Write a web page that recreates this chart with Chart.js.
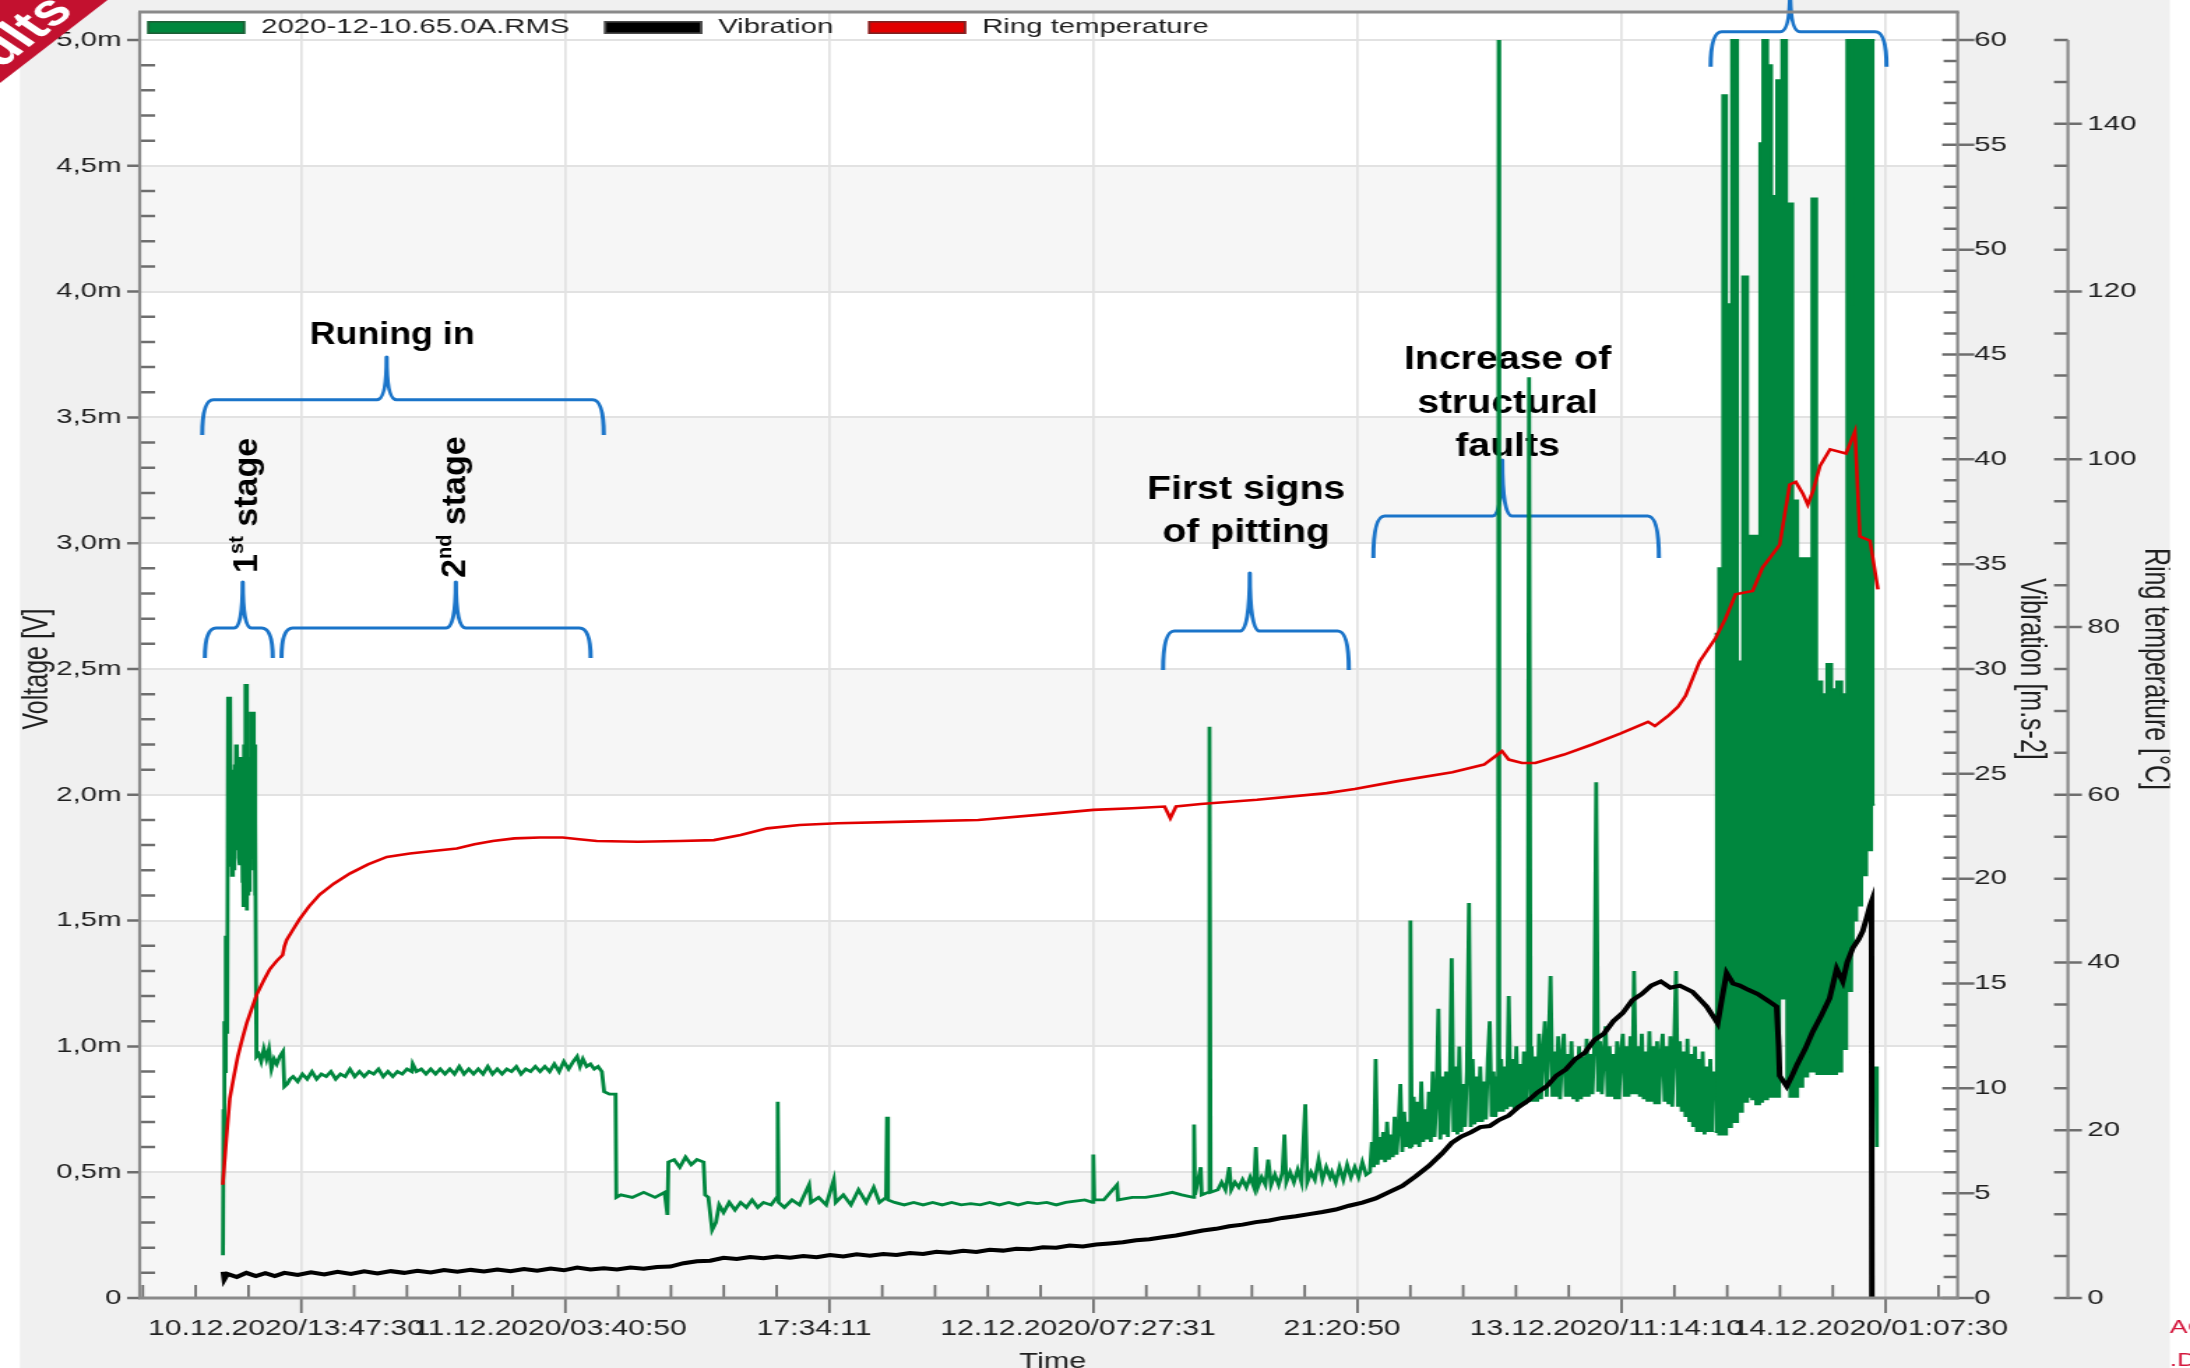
<!DOCTYPE html>
<html>
<head>
<meta charset="utf-8">
<title>Voltage, vibration and ring temperature</title>
<script src="https://cdn.jsdelivr.net/npm/chart.js@4.4.1/dist/chart.umd.min.js"></script>
<style>
  html, body { margin: 0; padding: 0; background: #ffffff; overflow: hidden; }
  /* the whole panel is drawn at 1568 px and widened to the 2190 px window */
  #stage { width: 1568px; height: 1368px; transform: scaleX(1.396684); transform-origin: 0 0; }
  canvas { display: block; }
</style>
</head>
<body>
<div id="stage"><canvas id="chart" width="1568" height="1368"></canvas></div>
<script>
// ---------------------------------------------------------------------------
// Data: time is in hours after 10.12.2020 00:00:00
// ---------------------------------------------------------------------------

// RMS voltage [mV] - running-in, first stage
const voltFirstStage = [
  [9.67,0.17],[9.70,0.75],[9.73,0.55],[9.76,1.10],[9.79,0.90],[9.82,1.44],[9.85,1.20],[9.88,1.44],
  [9.91,1.05],[9.94,2.39],[9.97,2.10],[10.00,2.39],[10.03,2.20],[10.06,2.39],[10.09,1.72],[10.12,2.06],
  [10.15,1.68],[10.18,2.10],[10.21,1.74],[10.24,2.02],[10.27,1.70],[10.30,2.12],[10.33,1.78],[10.36,2.20],
  [10.39,1.80],[10.42,2.18],[10.45,1.82],[10.48,2.10],[10.51,1.75],[10.54,2.05],[10.57,1.72],[10.60,2.15],
  [10.63,1.80],[10.66,2.00],[10.69,1.65],[10.72,1.95],[10.75,1.56],[10.78,2.20],[10.81,1.75],[10.84,2.44],
  [10.87,2.00],[10.90,2.44],[10.93,1.54],[10.96,2.10],[10.99,1.60],[11.02,2.00],[11.05,1.62],[11.08,2.15],
  [11.11,1.75],[11.14,2.33],[11.17,1.95],[11.20,2.33],[11.23,1.80],[11.26,2.33],[11.29,1.70],[11.32,2.20],
  [11.35,1.60],[11.38,1.90],[11.41,1.20],[11.43,0.96]
];
// RMS voltage [mV] - running-in, second stage
const voltSecondStage = [
  [11.55,0.97],[11.68,0.94],[11.82,0.99],[11.96,0.95],[12.09,0.99],[12.22,0.91],[12.36,0.95],[12.50,0.93],
  [12.66,0.96],[12.83,0.98],[12.90,0.84],[13.05,0.85],[13.20,0.87],[13.36,0.88],[13.6,0.86],[13.85,0.89],
  [14.1,0.87],[14.35,0.90],[14.6,0.87],[14.85,0.89],[15.1,0.88],[15.35,0.90],[15.6,0.87],[15.85,0.89],
  [16.1,0.88],[16.35,0.91],[16.6,0.88],[16.85,0.90],[17.1,0.88],[17.35,0.90],[17.6,0.89],[17.85,0.91],
  [18.1,0.88],[18.35,0.90],[18.6,0.88],[18.85,0.90],[19.1,0.89],[19.35,0.91],[19.6,0.90],[19.65,0.93],
  [19.85,0.90],[20.1,0.91],[20.35,0.89],[20.6,0.91],[20.85,0.89],[21.1,0.91],[21.35,0.89],[21.6,0.91],
  [21.85,0.89],[22.1,0.92],[22.35,0.89],[22.6,0.91],[22.85,0.89],[23.1,0.91],[23.35,0.89],[23.6,0.92],
  [23.85,0.89],[24.1,0.91],[24.35,0.89],[24.6,0.91],[24.85,0.90],[25.1,0.92],[25.35,0.89],[25.6,0.91],
  [25.85,0.90],[26.1,0.92],[26.35,0.90],[26.6,0.92],[26.85,0.90],[27.1,0.93],[27.35,0.90],[27.6,0.94],
  [27.85,0.91],[28.1,0.94],[28.3,0.96],[28.45,0.92],[28.6,0.95],[28.8,0.92],[29.0,0.93],[29.2,0.91],
  [29.4,0.92],[29.6,0.90],[29.72,0.82],[30.0,0.81],[30.32,0.81],[30.36,0.40]
];
// RMS voltage [mV] - settled operation
const voltSettled = [
  [30.6,0.41],[31.2,0.40],[31.8,0.42],[32.4,0.40],[32.9,0.42],[33.05,0.33],[33.10,0.54],[33.4,0.55],
  [33.7,0.52],[34.0,0.56],[34.3,0.53],[34.6,0.55],[34.95,0.54],[35.03,0.41],[35.2,0.40],[35.4,0.27],
  [35.6,0.30],[35.77,0.37],[36.0,0.34],[36.3,0.38],[36.6,0.35],[36.9,0.38],[37.2,0.36],[37.5,0.39],
  [37.8,0.36],[38.1,0.38],[38.5,0.37],[38.8,0.40],[38.85,0.78],[38.9,0.38],[39.2,0.36],[39.6,0.39],
  [40.0,0.37],[40.5,0.45],[40.6,0.38],[41.0,0.40],[41.4,0.37],[41.8,0.47],[41.9,0.38],[42.3,0.41],
  [42.7,0.37],[43.1,0.43],[43.5,0.38],[43.9,0.44],[44.2,0.38],[44.55,0.40],[44.6,0.72],[44.65,0.39],
  [45.0,0.38],[45.5,0.37],[46.0,0.38],[46.5,0.37],[47.0,0.38],[47.5,0.37],[48.0,0.38],[48.5,0.37],
  [49.0,0.375],[49.5,0.37],[50.0,0.38],[50.5,0.37],[51.0,0.38],[51.5,0.37],[52.0,0.38],[52.5,0.375],
  [53.0,0.38],[53.5,0.37],[54.0,0.38],[54.5,0.385],[55.0,0.39],[55.4,0.38],[55.45,0.57],[55.5,0.39],
  [56.0,0.39],[56.7,0.45],[56.75,0.39],[57.5,0.40],[58.2,0.40],[59.0,0.41],[59.6,0.42],[60.1,0.41],
  [60.7,0.40],[60.75,0.69],[60.8,0.41],[61.1,0.52],[61.15,0.41],[61.5,0.42],[61.56,2.27],[61.62,0.42]
];
// RMS voltage [mV] - first signs of pitting
const voltPitting = [
  [62.0,0.43],[62.2,0.46],[62.4,0.43],[62.6,0.52],[62.7,0.43],[62.9,0.46],[63.1,0.44],[63.3,0.47],
  [63.5,0.44],[63.7,0.48],[63.9,0.44],[64.0,0.60],[64.1,0.44],[64.3,0.48],[64.5,0.45],[64.65,0.55],
  [64.8,0.45],[65.0,0.49],[65.2,0.45],[65.4,0.50],[65.5,0.65],[65.6,0.46],[65.8,0.50],[66.0,0.46],
  [66.2,0.51],[66.4,0.46],[66.6,0.77],[66.7,0.46],[66.9,0.50],[67.1,0.47],[67.3,0.55],[67.5,0.47],
  [67.7,0.52],[67.9,0.48],[68.0,0.50],[68.2,0.46],[68.4,0.52],[68.6,0.47],[68.8,0.53],[69.0,0.48],
  [69.2,0.52],[69.4,0.48],[69.6,0.54],[69.8,0.49]
];
// RMS voltage [mV] - growing structural faults
const voltFaults = [
  [70.0,0.50],[70.1,0.62],[70.2,0.52],[70.3,0.95],[70.4,0.53],[70.5,0.64],[70.6,0.55],[70.7,0.66],
  [70.8,0.54],[70.9,0.70],[71.0,0.55],[71.1,0.65],[71.2,0.56],[71.3,0.72],[71.4,0.57],[71.5,0.68],
  [71.6,0.85],[71.7,0.58],[71.8,0.74],[71.9,0.60],[72.0,0.70],[72.1,0.60],[72.13,1.50],[72.2,0.60],
  [72.3,0.80],[72.4,0.61],[72.5,0.78],[72.6,0.60],[72.7,0.86],[72.8,0.62],[72.9,0.75],[73.0,0.63],
  [73.1,0.82],[73.2,0.62],[73.3,0.90],[73.4,0.64],[73.5,0.80],[73.6,1.15],[73.7,0.63],[73.8,0.88],
  [73.9,0.65],[74.0,0.90],[74.1,0.64],[74.2,0.85],[74.3,1.35],[74.4,0.66],[74.5,0.92],[74.6,0.65],
  [74.7,1.00],[74.8,0.66],[74.9,0.85],[75.0,0.68],[75.1,0.90],[75.21,1.57],[75.3,0.68],[75.4,0.95],
  [75.5,0.69],[75.6,0.88],[75.7,0.70],[75.8,0.92],[75.9,0.70],[76.0,0.86],[76.1,0.71],[76.2,0.95],
  [76.3,1.10],[76.4,0.72],[76.5,0.90],[76.6,0.72],[76.7,0.88],[76.74,0.74],[76.77,5.00],[76.80,0.74],
  [76.9,0.95],[77.0,0.74],[77.1,0.92],[77.2,0.75],[77.3,1.20],[77.4,0.76],[77.5,0.95],[77.6,0.75],
  [77.7,1.00],[77.8,0.76],[77.9,0.93],[78.0,0.77],[78.1,0.98],[78.2,0.77],[78.3,0.92],[78.37,3.66],
  [78.45,0.78],[78.5,1.00],[78.6,0.78],[78.7,0.96],[78.8,0.78],[78.9,1.05],[79.0,0.79],[79.1,0.98],
  [79.2,1.10],[79.3,0.80],[79.4,1.02],[79.5,1.28],[79.6,0.80],[79.7,0.98],[79.8,0.80],[79.9,1.04],
  [80.0,0.79],[80.1,0.96],[80.2,1.05],[80.3,0.80],[80.4,0.97],[80.5,0.80],[80.6,1.02],[80.7,0.79],
  [80.8,0.95],[80.9,0.78],[81.0,1.00],[81.1,0.79],[81.2,0.96],[81.3,0.80],[81.4,1.03],[81.5,0.80],
  [81.6,0.97],[81.7,0.81],[81.8,1.00],[81.9,2.05],[82.0,0.82],[82.1,1.02],[82.2,0.81],[82.3,0.98],
  [82.4,1.08],[82.5,0.80],[82.6,1.00],[82.7,0.80],[82.8,0.97],[82.9,0.79],[83.0,1.02],[83.1,0.79],
  [83.2,0.98],[83.3,1.05],[83.4,0.80],[83.5,1.00],[83.6,0.80],[83.7,1.04],[83.8,0.81],[83.89,1.30],
  [84.0,0.81],[84.1,1.00],[84.2,0.80],[84.3,1.05],[84.4,0.79],[84.5,0.98],[84.6,0.78],[84.7,1.06],
  [84.8,0.78],[84.9,1.00],[85.0,0.77],[85.1,1.02],[85.2,0.77],[85.3,0.97],[85.4,1.05],[85.5,0.78],
  [85.6,1.00],[85.7,0.77],[85.8,1.04],[85.9,0.76],[86.0,1.00],[86.1,1.30],[86.2,0.76],[86.3,1.02],
  [86.4,0.74],[86.5,0.98],[86.6,0.72],[86.7,1.03],[86.8,0.70],[86.9,0.97],[87.0,0.68],[87.1,1.00],
  [87.2,0.66],[87.3,0.95],[87.4,0.66],[87.5,0.98],[87.6,0.65],[87.7,0.92],[87.8,0.66],[87.9,0.95],
  [88.0,0.66],[88.1,0.90]
];
// RMS voltage [mV] - final burst, lower and upper envelope per time slot
const burstHours = [88.13,88.34,88.55,88.76,89.02,89.34,89.60,89.87,90.08,90.29,90.50,90.66,90.92,91.13,
  91.39,91.55,91.66,91.92,92.08,92.24,92.50,92.77,93.03,93.24,93.50,93.77,94.03,94.29,94.55,94.82,
  95.08,95.34,95.42,95.61,95.87,96.13,96.39,96.55];
const burstLow = [0.66,0.65,0.65,0.68,0.70,0.74,0.78,0.80,0.79,0.77,0.78,0.79,0.80,0.80,
  0.80,1.19,1.19,0.84,0.80,0.80,0.84,0.88,0.90,0.90,0.89,0.89,0.89,0.89,0.90,0.99,
  1.22,1.40,1.50,1.56,1.68,1.78,1.96,1.96];
const burstHigh = [2.64,2.90,4.78,3.95,5.00,2.53,4.06,3.03,3.03,3.03,4.59,5.00,4.90,4.38,
  4.84,4.84,5.00,4.35,4.35,3.17,2.94,2.94,2.94,4.37,2.45,2.40,2.52,2.42,2.45,2.40,
  5.00,3.95,5.00,5.00,5.00,5.00,5.00,5.00];
// RMS voltage [mV] - last reading after the stop
const voltTail = [[96.62,0.92],[96.66,0.60]];

// Vibration [m.s-2]
const vibration = [
  [9.69,1.25],[9.74,0.90],[9.9,1.15],[10.4,1.00],[10.9,1.20],[11.4,1.05],[11.9,1.18],[12.4,1.05],
  [12.9,1.20],[13.6,1.10],[14.3,1.22],[15.0,1.12],[15.7,1.25],[16.4,1.15],[17.1,1.27],[17.8,1.17],
  [18.5,1.28],[19.2,1.20],[19.9,1.30],[20.6,1.22],[21.3,1.33],[22.0,1.25],[22.7,1.34],[23.4,1.27],
  [24.1,1.36],[24.8,1.28],[25.5,1.38],[26.2,1.30],[26.9,1.40],[27.6,1.32],[28.3,1.45],[29.0,1.36],
  [29.7,1.42],[30.4,1.36],[31.1,1.45],[31.8,1.40],[32.5,1.48],[33.2,1.50],[33.9,1.66],[34.6,1.75],
  [35.3,1.78],[36.0,1.92],[36.7,1.86],[37.4,1.95],[38.1,1.90],[38.8,1.98],[39.5,1.92],[40.2,2.00],
  [40.9,1.95],[41.6,2.05],[42.3,1.98],[43.0,2.08],[43.7,2.02],[44.4,2.10],[45.1,2.05],[45.8,2.14],
  [46.5,2.10],[47.2,2.20],[47.9,2.16],[48.6,2.25],[49.3,2.20],[50.0,2.30],[50.7,2.26],[51.4,2.35],
  [52.1,2.32],[52.8,2.42],[53.5,2.40],[54.2,2.50],[54.9,2.46],[55.6,2.55],[56.3,2.60],[57.0,2.66],
  [57.7,2.75],[58.4,2.80],[59.1,2.90],[59.8,2.98],[60.5,3.10],[61.2,3.22],[61.9,3.30],[62.6,3.42],
  [63.3,3.50],[64.0,3.62],[64.7,3.70],[65.4,3.82],[66.1,3.90],[66.8,4.00],[67.5,4.10],[68.2,4.22],
  [68.9,4.40],[69.6,4.55],[70.3,4.75],[71.0,5.05],[71.7,5.35],[72.4,5.80],[73.1,6.30],[73.8,6.90],
  [74.3,7.40],[74.8,7.70],[75.3,7.90],[75.8,8.15],[76.3,8.20],[76.8,8.50],[77.3,8.70],[77.8,9.10],
  [78.3,9.40],[78.8,9.80],[79.3,10.10],[79.8,10.60],[80.3,10.90],[80.8,11.40],[81.3,11.70],[81.8,12.30],
  [82.3,12.60],[82.8,13.20],[83.3,13.60],[83.8,14.20],[84.3,14.50],[84.8,14.90],[85.3,15.10],[85.8,14.80],
  [86.3,14.90],[86.97,14.60],[87.4,14.20],[87.71,13.90],[88.0,13.50],[88.29,13.10],[88.5,14.20],[88.76,15.50],
  [89.1,15.00],[89.45,14.90],[89.9,14.70],[90.4,14.50],[90.9,14.20],[91.39,13.90],[91.5,12.00],[91.55,10.60],
  [91.92,10.10],[92.2,10.60],[92.45,11.10],[92.9,11.90],[93.29,12.70],[93.7,13.40],[94.18,14.30],[94.55,15.70],
  [94.87,15.10],[95.1,16.00],[95.4,16.70],[95.7,17.10],[95.92,17.50],[96.15,18.20],[96.3,18.70],[96.38,18.90],
  [96.40,0.00]
];

// Ring temperature [°C]
const ringTemperature = [
  [9.66,13.5],[9.85,19.0],[10.03,23.8],[10.25,26.5],[10.45,28.8],[10.7,31.0],[10.92,32.8],[11.2,34.6],
  [11.45,36.2],[11.8,37.8],[12.13,39.2],[12.5,40.2],[12.81,40.9],[12.9,41.9],[13.02,42.7],[13.35,43.9],
  [13.71,45.2],[14.2,46.7],[14.76,48.1],[15.5,49.4],[16.34,50.6],[17.3,51.7],[18.29,52.6],[19.5,53.0],
  [20.71,53.3],[21.97,53.6],[22.9,54.1],[23.86,54.5],[25.0,54.8],[26.33,54.9],[27.54,54.9],[28.4,54.7],
  [29.33,54.5],[31.5,54.4],[33.69,54.5],[35.5,54.6],[36.9,55.2],[38.3,56.0],[40.0,56.4],[42.0,56.6],
  [45.7,56.8],[49.4,57.0],[53.0,57.7],[55.45,58.2],[57.5,58.4],[59.2,58.6],[59.5,57.2],[59.8,58.6],
  [61.1,58.9],[64.06,59.4],[67.73,60.2],[69.2,60.7],[71.39,61.6],[74.33,62.7],[76.0,63.6],[76.6,64.6],
  [76.95,65.2],[77.3,64.2],[78.0,63.8],[78.7,63.8],[80.21,64.8],[81.69,66.0],[83.16,67.3],[84.63,68.7],
  [84.99,68.2],[85.73,69.5],[86.2,70.5],[86.6,71.8],[87.34,75.9],[88.18,78.7],[88.7,81.0],[89.23,83.9],
  [90.13,84.3],[90.65,87.1],[91.55,89.8],[91.82,93.5],[92.08,97.0],[92.4,97.3],[92.77,95.9],[93.03,94.6],
  [93.3,96.2],[93.67,99.2],[94.2,101.2],[95.04,100.7],[95.51,103.3],[95.77,90.8],[96.3,90.3],[96.72,84.5]
];

// Axis ticks
const timeTickLabels = ['10.12.2020/13:47:30', '11.12.2020/03:40:50', '17:34:11', '12.12.2020/07:27:31',
  '21:20:50', '13.12.2020/11:14:10', '14.12.2020/01:07:30'];
const firstTimeTick = 13 + 47 / 60 + 30 / 3600;   // 10.12.2020 13:47:30
const timeTickStep = 50000 / 3600;                // 13:53:20 between labels
const voltTickValues = [0, 0.5, 1, 1.5, 2, 2.5, 3, 3.5, 4, 4.5, 5];
const vibTickValues = [0, 5, 10, 15, 20, 25, 30, 35, 40, 45, 50, 55, 60];
const tempTickValues = [0, 20, 40, 60, 80, 100, 120, 140];

// ---------------------------------------------------------------------------
// Styling
// ---------------------------------------------------------------------------
const FONT = '"Liberation Sans", Arial, sans-serif';
const GREEN = '#00873e';
const RED = '#e10000';
const TEXT = '#1e1e1e';
const GRID = '#e2e2e2';
const AXIS = '#8a8a8a';
const TICK = '#6e6e6e';
const BRACE = '#1a74c9';
const topRoom = 1286 / 1258;   // space above the top tick for the legend strip

Chart.defaults.font.family = FONT;
Chart.defaults.color = TEXT;

const toXY = pts => pts.map(([x, y]) => ({ x, y }));
const voltageLine = toXY([...voltFirstStage, ...voltSecondStage, ...voltSettled, ...voltPitting, ...voltFaults])
  .concat([{ x: 88.12, y: null }], toXY(voltTail));
const burstLowLine = burstHours.map((h, i) => ({ x: h, y: burstLow[i] }));
const burstHighLine = burstHours.map((h, i) => ({ x: h, y: burstHigh[i] }));

// Annotations, placed in data units (hours, mV)
const braces = [
  { from: 8.58, to: 29.70, mid: 18.28, end: 3.43, bar: 3.57, tip: 3.74 },
  { from: 8.72, to: 12.29, mid: 10.71, end: 2.544, bar: 2.663, tip: 2.846 },
  { from: 12.75, to: 29.01, mid: 21.92, end: 2.544, bar: 2.663, tip: 2.846 },
  { from: 59.12, to: 68.89, mid: 63.68, end: 2.496, bar: 2.651, tip: 2.882 },
  { from: 70.18, to: 85.20, mid: 76.96, end: 2.941, bar: 3.108, tip: 3.331 },
  { from: 87.92, to: 97.17, mid: 92.10, end: 4.894, bar: 5.033, tip: 5.20 }
];
const noteLines = [
  { text: 'Runing in', x: 18.57, y: 3.79, size: 31 },
  { text: 'First signs', x: 63.49, y: 3.176, size: 34 },
  { text: 'of pitting', x: 63.49, y: 3.005, size: 34 },
  { text: 'Increase of', x: 77.24, y: 3.692, size: 34 },
  { text: 'structural', x: 77.24, y: 3.517, size: 34 },
  { text: 'faults', x: 77.24, y: 3.347, size: 34 }
];
const stageNotes = [
  { lead: '1', sup: 'st', rest: ' stage', x: 11.0, y: 2.882 },
  { lead: '2', sup: 'nd', rest: ' stage', x: 21.95, y: 2.862 }
];
const legendEntries = [0, 3, 4];
const legendEdges = ['#1d5f37', '#4a4a4a', '#7e2222'];

// ---------------------------------------------------------------------------
// Drawing helpers
// ---------------------------------------------------------------------------
function drawBrace(ctx, xs, ys, b) {
  const xL = xs.getPixelForValue(b.from), xR = xs.getPixelForValue(b.to), xC = xs.getPixelForValue(b.mid);
  const yE = ys.getPixelForValue(b.end), yB = ys.getPixelForValue(b.bar), yT = ys.getPixelForValue(b.tip);
  const r = Math.min(8, (xR - xL) / 6);
  const c = Math.min(7, (xR - xL) / 8);
  ctx.beginPath();
  ctx.moveTo(xL, yE);
  ctx.quadraticCurveTo(xL, yB, xL + r, yB);
  ctx.lineTo(xC - c, yB);
  ctx.quadraticCurveTo(xC, yB, xC, yT);
  ctx.quadraticCurveTo(xC, yB, xC + c, yB);
  ctx.lineTo(xR - r, yB);
  ctx.quadraticCurveTo(xR, yB, xR, yE);
  ctx.stroke();
}

function drawNotes(chart) {
  const { ctx, scales } = chart;
  const xs = scales.x, ys = scales.y;
  ctx.save();
  ctx.strokeStyle = BRACE;
  ctx.lineWidth = 3;
  ctx.lineJoin = 'round';
  braces.forEach(b => drawBrace(ctx, xs, ys, b));

  ctx.fillStyle = '#000000';
  ctx.textAlign = 'center';
  ctx.textBaseline = 'alphabetic';
  noteLines.forEach(n => {
    ctx.save();
    ctx.translate(xs.getPixelForValue(n.x), ys.getPixelForValue(n.y));
    ctx.scale(0.826, 1);
    ctx.font = `bold ${n.size}px ${FONT}`;
    ctx.fillText(n.text, 0, 0);
    ctx.restore();
  });

  ctx.textAlign = 'left';
  ctx.textBaseline = 'middle';
  stageNotes.forEach(n => {
    ctx.save();
    ctx.translate(xs.getPixelForValue(n.x), ys.getPixelForValue(n.y));
    ctx.scale(0.7, 1);
    ctx.rotate(-Math.PI / 2);
    let u = 0;
    ctx.font = `bold 34px ${FONT}`;
    ctx.fillText(n.lead, u, 0);
    u += ctx.measureText(n.lead).width;
    ctx.font = `bold 20px ${FONT}`;
    ctx.fillText(n.sup, u, -11);
    u += ctx.measureText(n.sup).width;
    ctx.font = `bold 34px ${FONT}`;
    ctx.fillText(n.rest, u, 0);
    ctx.restore();
  });
  ctx.restore();
}

function drawFrame(chart) {
  const { ctx, chartArea: a, scales } = chart;
  const xs = scales.x, yv = scales.y, ya = scales.yVib, yt = scales.yTemp;
  const tx = yt.left;
  ctx.save();
  ctx.lineCap = 'butt';
  ctx.strokeStyle = TICK;
  ctx.lineWidth = 2.5;
  ctx.beginPath();
  for (let v = 0; v <= 50; v++) {
    const p = yv.getPixelForValue(v / 10);
    if (v % 5 === 0) { ctx.moveTo(a.left - 9, p); ctx.lineTo(a.left, p); }
    else { ctx.moveTo(a.left, p); ctx.lineTo(a.left + 11, p); }
  }
  for (let v = 0; v <= 60; v++) {
    const p = ya.getPixelForValue(v);
    if (v % 5 === 0) { ctx.moveTo(a.right - 11, p); ctx.lineTo(a.right + 12, p); }
    else { ctx.moveTo(a.right - 10, p); ctx.lineTo(a.right, p); }
  }
  for (let v = 0; v <= 150; v += 5) {
    const p = yt.getPixelForValue(v);
    if (v % 20 === 0 && v <= 140) { ctx.moveTo(tx - 10, p); ctx.lineTo(tx + 10, p); }
    else { ctx.moveTo(tx - 10, p); ctx.lineTo(tx, p); }
  }
  ctx.stroke();

  ctx.lineWidth = 1.8;
  ctx.beginPath();
  const minorStep = timeTickStep / 5;
  const k0 = Math.ceil((xs.min - firstTimeTick) / minorStep);
  for (let k = k0; firstTimeTick + k * minorStep <= xs.max; k++) {
    const p = xs.getPixelForValue(firstTimeTick + k * minorStep);
    if (k % 5 === 0) { ctx.moveTo(p, a.bottom); ctx.lineTo(p, a.bottom + 15); }
    else { ctx.moveTo(p, a.bottom); ctx.lineTo(p, a.bottom - 13); }
  }
  ctx.stroke();

  ctx.strokeStyle = AXIS;
  ctx.lineWidth = 3;
  ctx.beginPath();
  ctx.moveTo(a.left - 1, a.top); ctx.lineTo(a.right + 1, a.top);
  ctx.moveTo(a.left - 1, a.bottom); ctx.lineTo(a.right + 1, a.bottom);
  ctx.stroke();
  ctx.lineWidth = 2.2;
  ctx.beginPath();
  ctx.moveTo(a.left, a.top); ctx.lineTo(a.left, a.bottom);
  ctx.moveTo(a.right, a.top); ctx.lineTo(a.right, a.bottom);
  ctx.moveTo(tx, yt.getPixelForValue(150)); ctx.lineTo(tx, yt.getPixelForValue(0));
  ctx.stroke();
  ctx.restore();
}

function drawLegend(chart) {
  const { ctx, chartArea: a } = chart;
  ctx.save();
  ctx.font = `21px ${FONT}`;
  ctx.textBaseline = 'middle';
  ctx.textAlign = 'left';
  let x = a.left + 5.5;
  legendEntries.forEach((idx, i) => {
    const ds = chart.data.datasets[idx];
    ctx.fillStyle = ds.borderColor;
    ctx.fillRect(x, 21, 70, 13);
    ctx.strokeStyle = legendEdges[i];
    ctx.lineWidth = 1.6;
    ctx.strokeRect(x + 0.8, 21.8, 68.4, 11.4);
    ctx.fillStyle = TEXT;
    ctx.fillText(ds.label, x + 81.5, 27.5);
    x += 81.5 + ctx.measureText(ds.label).width + 25;
  });
  ctx.restore();
}

function drawTitles(chart) {
  const { ctx, chartArea: a, scales } = chart;
  const midY = (a.top + a.bottom) / 2 + 14;
  ctx.save();
  ctx.fillStyle = TEXT;
  ctx.font = `25px ${FONT}`;
  ctx.textAlign = 'center';
  ctx.textBaseline = 'middle';
  const rotated = (text, x, angle) => {
    ctx.save();
    ctx.translate(x, midY);
    ctx.rotate(angle);
    ctx.fillText(text, 0, 0);
    ctx.restore();
  };
  rotated('Voltage [V]', scales.y.left + 26.8, -Math.PI / 2);
  rotated('Vibration [m.s-2]', scales.yVib.left + 52.4, Math.PI / 2);
  rotated('Ring temperature [°C]', scales.yTemp.left + 62.4, Math.PI / 2);
  ctx.font = `22px ${FONT}`;
  ctx.textBaseline = 'alphabetic';
  ctx.fillText('Time', (a.left + a.right) / 2 + 3, chart.height);
  ctx.restore();
}

function drawEdges(chart) {
  const { ctx } = chart;
  ctx.save();
  // white margin on the right with a cropped red caption
  ctx.fillStyle = '#ffffff';
  ctx.fillRect(1553.7, 0, chart.width - 1553.7, chart.height);
  ctx.fillStyle = '#d4163c';
  ctx.font = `19px ${FONT}`;
  ctx.textAlign = 'left';
  ctx.textBaseline = 'alphabetic';
  ctx.fillText('AC', 1553.5, 1333);
  ctx.fillText('.D', 1553.5, 1366);
  // red corner ribbon
  ctx.beginPath();
  ctx.moveTo(0, 0); ctx.lineTo(77, 0); ctx.lineTo(0, 83); ctx.closePath();
  ctx.fillStyle = '#c3112f';
  ctx.fill();
  ctx.clip();
  ctx.translate(0.5, 69);
  ctx.rotate(-0.82);
  ctx.font = `bold 44px ${FONT}`;
  ctx.fillStyle = '#ffffff';
  ctx.fillText('ults', 0, 0);
  ctx.restore();
}

const panelDecor = {
  id: 'panelDecor',
  beforeDraw(chart) {
    const { ctx, chartArea: a } = chart;
    const y = chart.scales.y;
    ctx.save();
    ctx.fillStyle = '#ffffff';
    ctx.fillRect(0, 0, chart.width, chart.height);
    ctx.fillStyle = '#f0f0f0';
    ctx.fillRect(14.3, 0, 1539.4, chart.height);
    ctx.fillStyle = '#ffffff';
    ctx.fillRect(a.left, a.top, a.right - a.left, a.bottom - a.top);
    ctx.fillStyle = '#f6f6f6';
    for (let i = 0; i < voltTickValues.length - 1; i += 2) {
      const y0 = y.getPixelForValue(voltTickValues[i]);
      const y1 = y.getPixelForValue(voltTickValues[i + 1]);
      ctx.fillRect(a.left, y1, a.right - a.left, y0 - y1);
    }
    ctx.restore();
  },
  beforeDatasetsDraw(chart) { drawNotes(chart); },
  afterDraw(chart) {
    drawFrame(chart);
    drawLegend(chart);
    drawTitles(chart);
    drawEdges(chart);
  }
};

const noPad = s => { s.paddingTop = 0; s.paddingBottom = 0; s.paddingLeft = 0; s.paddingRight = 0; };

new Chart(document.getElementById('chart'), {
  type: 'line',
  data: {
    datasets: [
      { label: '2020-12-10.65.0A.RMS', data: voltageLine, yAxisID: 'y', borderColor: GREEN,
        borderWidth: 2.8, pointRadius: 0, fill: false, order: 2 },
      { label: '2020-12-10.65.0A.RMS min', data: burstLowLine, yAxisID: 'y', borderColor: GREEN,
        borderWidth: 2, pointRadius: 0, stepped: true, fill: false, order: 4 },
      { label: '2020-12-10.65.0A.RMS max', data: burstHighLine, yAxisID: 'y', borderColor: GREEN,
        backgroundColor: GREEN, borderWidth: 2, pointRadius: 0, stepped: true, fill: '-1', order: 3 },
      { label: 'Vibration', data: toXY(vibration), yAxisID: 'yVib', borderColor: '#000000',
        borderWidth: 4, pointRadius: 0, fill: false, order: 1 },
      { label: 'Ring temperature', data: toXY(ringTemperature), yAxisID: 'yTemp', borderColor: RED,
        borderWidth: 2.6, pointRadius: 0, fill: false, order: 0 }
    ]
  },
  options: {
    responsive: false,
    devicePixelRatio: 1,
    animation: false,
    events: [],
    layout: { padding: { top: 12, left: 0, right: 0, bottom: 0 } },
    plugins: { legend: { display: false }, tooltip: { enabled: false } },
    scales: {
      x: {
        type: 'linear', position: 'bottom', min: 5.29, max: 100.91,
        afterBuildTicks: s => { s.ticks = timeTickLabels.map((_, i) => ({ value: firstTimeTick + i * timeTickStep })); },
        afterFit: s => { s.height = 70; noPad(s); },
        ticks: {
          callback: (v, i) => timeTickLabels[i], autoSkip: false, maxRotation: 0, minRotation: 0,
          padding: 18, labelOffset: -11, color: TEXT, font: { size: 21.5 }
        },
        grid: { color: GRID, lineWidth: 1.7, drawTicks: false },
        border: { display: false }
      },
      y: {
        type: 'linear', position: 'left', min: 0, max: 5 * topRoom,
        afterBuildTicks: s => { s.ticks = voltTickValues.map(v => ({ value: v })); },
        afterFit: s => { s.width = 100; noPad(s); },
        ticks: {
          callback: v => (v === 0 ? '0' : v.toFixed(1).replace('.', ',') + 'm'),
          padding: 13, color: TEXT, font: { size: 21 }
        },
        grid: { color: GRID, lineWidth: 2, drawTicks: false },
        border: { display: false }
      },
      yVib: {
        type: 'linear', position: 'right', weight: 0, min: 0, max: 60 * topRoom,
        afterBuildTicks: s => { s.ticks = vibTickValues.map(v => ({ value: v })); },
        afterFit: s => { s.width = 79; noPad(s); },
        ticks: { callback: v => String(v), padding: 12, color: TEXT, font: { size: 21 } },
        grid: { drawOnChartArea: false, drawTicks: false },
        border: { display: false }
      },
      yTemp: {
        type: 'linear', position: 'right', weight: 1, min: 0, max: 150 * topRoom,
        afterBuildTicks: s => { s.ticks = tempTickValues.map(v => ({ value: v })); },
        afterFit: s => { s.width = 87.4; noPad(s); },
        ticks: { callback: v => String(v), padding: 14, color: TEXT, font: { size: 21 } },
        grid: { drawOnChartArea: false, drawTicks: false },
        border: { display: false }
      }
    }
  },
  plugins: [panelDecor]
});
</script>
</body>
</html>
